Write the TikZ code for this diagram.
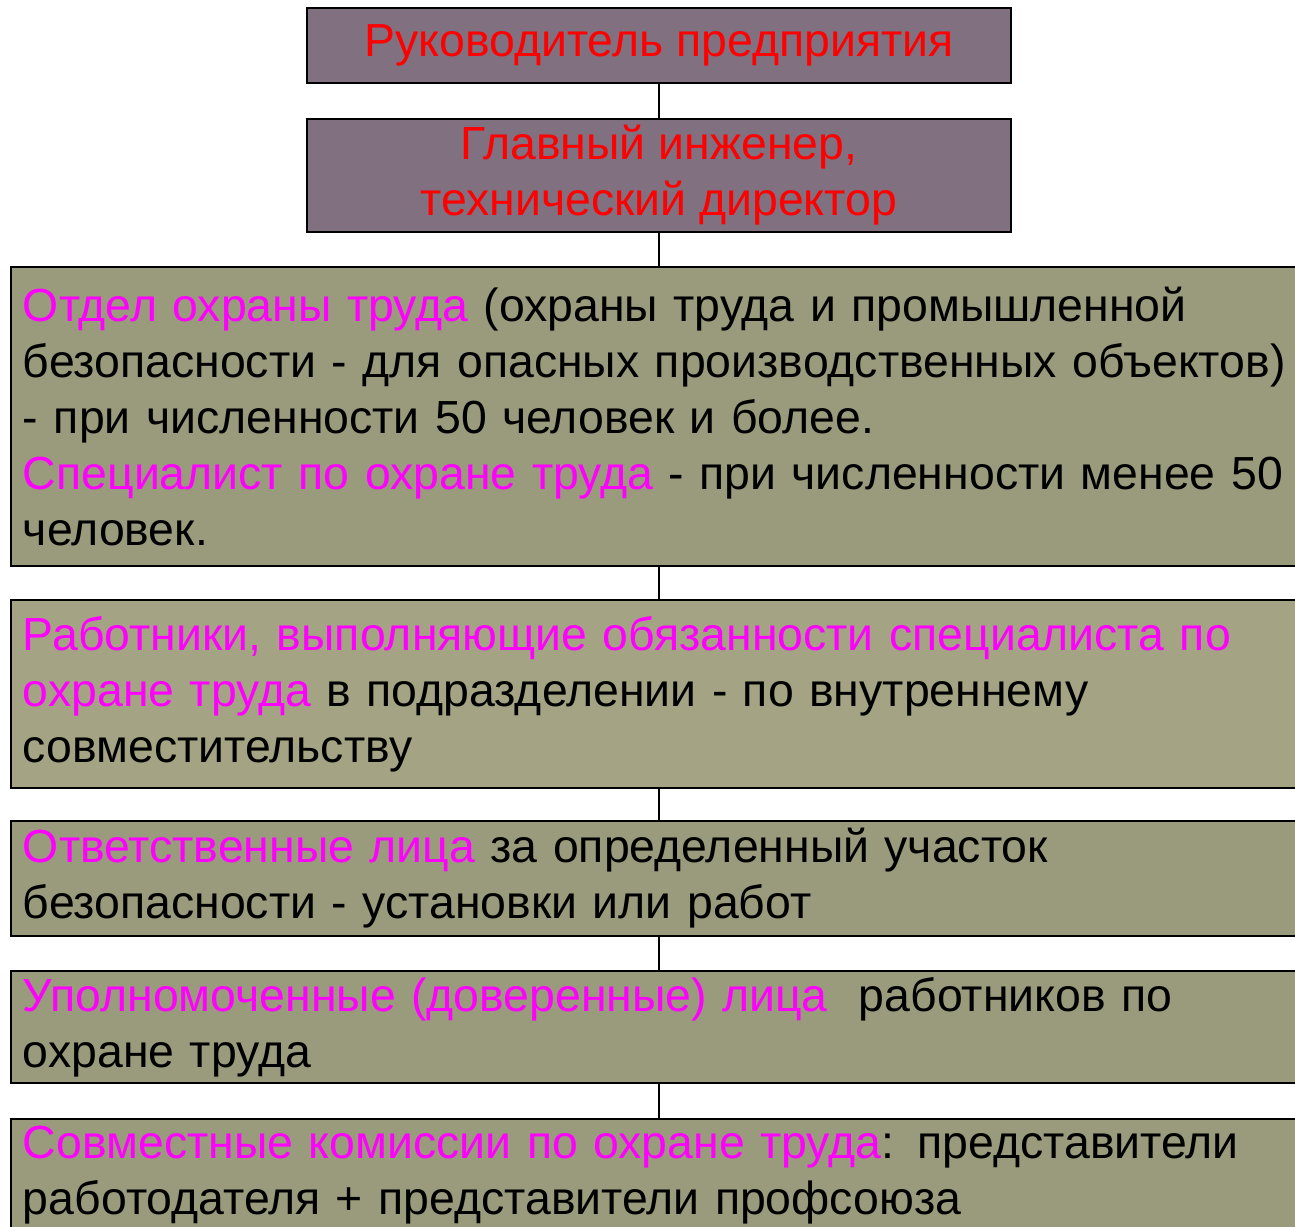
\documentclass[tikz,border=0pt]{standalone}
\usepackage{fontspec}
\setmainfont{Liberation Sans}
\definecolor{topfill}{RGB}{128,112,128}
\definecolor{lowfill}{RGB}{154,154,124}
\definecolor{midfill}{RGB}{164,164,132}
\definecolor{hl}{RGB}{255,0,255}
\newcommand{\hlt}[1]{\textcolor{hl}{#1}}
\begin{document}
\begin{tikzpicture}[x=1pt,y=-1pt,
  every node/.style={font=\fontsize{46.4}{56}\selectfont},
  topbox/.style={draw=black,line width=2pt,fill=topfill,text=red,align=center,
    minimum width=704pt,inner sep=0pt,anchor=north west},
  widebox/.style={draw=black,line width=2pt,fill=#1,align=left,text width=1400pt,
    inner xsep=12pt,inner ysep=0pt,anchor=north west},
  link/.style={draw=black,line width=1.5pt}]
\useasboundingbox (0,0) rectangle (1295,1226);
\clip (0,0) rectangle (1295,1226);
\node[topbox,minimum height=75pt] (b1) at (306,7) {Руководитель предприятия};
\node[topbox,minimum height=113pt] (b2) at (306,118) {Главный инженер,\\технический директор};
\node[widebox=lowfill,minimum height=299pt] (b3) at (10,266)
 {\hlt{Отдел охраны труда} (охраны труда и промышленной\\
  безопасности - для опасных производственных объектов)\\
  - при численности 50 человек и более.\\
  \hlt{Специалист по охране труда} - при численности менее 50\\
  человек.};
\node[widebox=midfill,minimum height=188pt] (b4) at (10,599)
 {\hlt{Работники, выполняющие обязанности специалиста по}\\
  \hlt{охране труда} в подразделении - по внутреннему\\
  совместительству};
\node[widebox=lowfill,minimum height=115pt] (b5) at (10,820)
 {\hlt{Ответственные лица} за определенный участок\\
  безопасности - установки или работ};
\node[widebox=lowfill,minimum height=112pt] (b6) at (10,970)
 {\hlt{Уполномоченные (доверенные) лица}\ \ работников по\\
  охране труда};
\node[widebox=lowfill,minimum height=113pt] (b7) at (10,1118)
 {\hlt{Совместные комиссии по охране труда}: представители\\
  работодателя + представители профсоюза};
\draw[link] (b1.south) -- (b2.north);
\draw[link] (b2.south) -- (b2.south |- b3.north);
\draw[link] (b2.south |- b3.south) -- (b2.south |- b4.north);
\draw[link] (b2.south |- b4.south) -- (b2.south |- b5.north);
\draw[link] (b2.south |- b5.south) -- (b2.south |- b6.north);
\draw[link] (b2.south |- b6.south) -- (b2.south |- b7.north);
\end{tikzpicture}
\end{document}
